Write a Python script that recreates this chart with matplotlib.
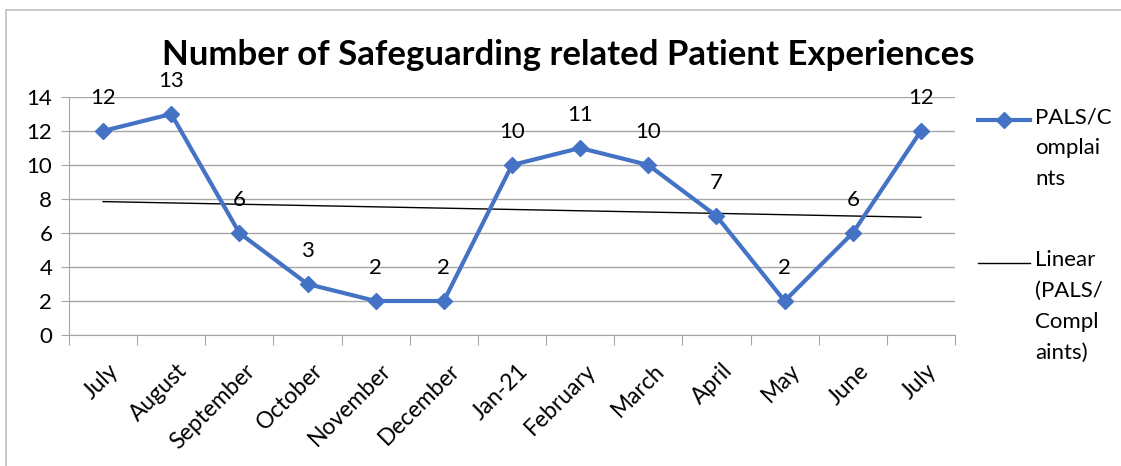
import numpy as np
import matplotlib.pyplot as plt
from matplotlib.patches import Rectangle
from matplotlib.lines import Line2D
import matplotlib.transforms as mtransforms

plt.rcParams['font.family'] = ['Lato', 'DejaVu Sans']

months = ["July", "August", "September", "October", "November", "December",
          "Jan-21", "February", "March", "April", "May", "June", "July"]
counts = [12, 13, 6, 3, 2, 2, 10, 11, 10, 7, 2, 6, 12]

blue = '#4472C4'
grid_col = '#A6A6A6'

fig = plt.figure(figsize=(11.21, 4.66), dpi=100)
ax = fig.add_axes([69/1121, 1-335/466, (955-69)/1121, (335-97)/466])

x = np.arange(len(months))
ax.plot(x, counts, color=blue, lw=3, marker='D', ms=8, zorder=3)

# linear trend line, as in Excel
k, b = np.polyfit(x, counts, 1)
ax.plot(x, k*x + b, color='black', lw=1, zorder=2)

for xi, yi in zip(x, counts):
    ax.annotate(str(yi), (xi, yi), xytext=(0, 24), textcoords='offset points',
                ha='center', va='center', fontsize=16)

ax.set_xlim(-0.5, len(months) - 0.5)
ax.set_ylim(0, 14)
ax.set_yticks(range(0, 15, 2))
ax.tick_params(axis='y', length=6, color=grid_col, labelsize=16, pad=6)
ax.yaxis.grid(True, color=grid_col, lw=1)
ax.set_axisbelow(True)

ax.set_xticks(np.arange(-0.5, len(months), 1))
ax.set_xticklabels([])
ax.tick_params(axis='x', length=7, color=grid_col)
ax.set_xticks(x, minor=True)
ax.set_xticklabels(months, minor=True, rotation=45, ha='right',
                   rotation_mode='anchor', fontsize=16.5)
ax.tick_params(axis='x', which='minor', length=0, pad=18)
offset = mtransforms.ScaledTranslation(5/100, 0, fig.dpi_scale_trans)
for lab in ax.get_xticklabels(minor=True):
    lab.set_transform(lab.get_transform() + offset)

for side in ['top', 'right']:
    ax.spines[side].set_visible(False)
ax.spines['left'].set_color(grid_col)
ax.spines['bottom'].set_color(grid_col)

fig.text(568/1121, 1-55/466, "Number of Safeguarding related Patient Experiences",
         ha='center', va='center', fontsize=25, fontweight='bold')

# legend drawn by hand so the key sits on the first text line
fig.add_artist(Line2D([978/1121, 1030/1121], [1-120/466, 1-120/466], color=blue,
                      lw=3, transform=fig.transFigure))
fig.add_artist(Line2D([1004/1121], [1-120/466], color=blue, marker='D', ms=8,
                      lw=0, transform=fig.transFigure))
fig.add_artist(Line2D([978/1121, 1030/1121], [1-263/466, 1-263/466], color='black',
                      lw=1, transform=fig.transFigure))
fig.text(1035/1121, 1-107/466, "PALS/C\nomplai\nnts", ha='left', va='top',
         fontsize=16, linespacing=1.69)
fig.text(1035/1121, 1-250/466, "Linear\n(PALS/\nCompl\naints)", ha='left', va='top',
         fontsize=16, linespacing=1.69)

fig.add_artist(Rectangle((6/1121, -0.1), 1.2, 1-10/466 + 0.1, fill=False,
                         edgecolor='#BFBFBF', lw=1.2, transform=fig.transFigure))

fig.savefig('out.png', dpi=100)
